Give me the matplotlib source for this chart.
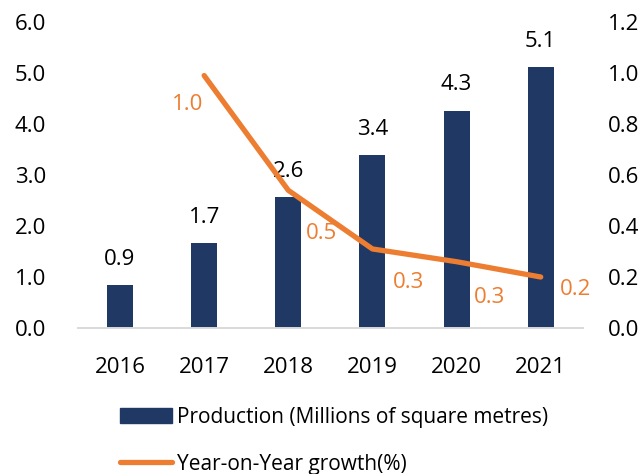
import matplotlib
matplotlib.use("Agg")
import matplotlib.pyplot as plt
from matplotlib.patches import Patch
from matplotlib.lines import Line2D

years = ["2016", "2017", "2018", "2019", "2020", "2021"]
production = [0.84, 1.67, 2.57, 3.39, 4.26, 5.11]
production_labels = ["0.9", "1.7", "2.6", "3.4", "4.3", "5.1"]
growth_years = ["2017", "2018", "2019", "2020", "2021"]
growth = [0.99, 0.54, 0.31, 0.26, 0.20]
growth_labels = ["1.0", "0.5", "0.3", "0.3", "0.2"]

plt.rcParams['font.family'] = ['Open Sans', 'DejaVu Sans']
BAR = "#203864"
LINE = "#ED7D31"

fig = plt.figure(figsize=(6.44, 4.74), dpi=100)
ax = fig.add_axes([0.121, 0.308, 0.784, 0.6456])
ax2 = ax.twinx()

x = list(range(len(years)))
ax.bar(x, production, width=0.31, color=BAR, zorder=2)
ax.set_ylim(0, 6.0)
ax.set_xlim(-0.5, len(years) - 0.5)
ax.set_yticks([0, 1, 2, 3, 4, 5, 6])
ax.set_yticklabels([f"{v:.1f}" for v in [0, 1, 2, 3, 4, 5, 6]])
ax.set_xticks(x)
ax.set_xticklabels(years)
for i, (v, lab) in enumerate(zip(production, production_labels)):
    ax.annotate(lab, (i, v), xytext=(0, 11), textcoords="offset points",
                ha="center", va="bottom", fontsize=16, color="#000000")

gx = [years.index(y) for y in growth_years]
ax2.plot(gx, growth, color=LINE, lw=3.8, solid_capstyle="round", zorder=3)
ax2.set_ylim(0, 1.2)
ax2.set_yticks([0, 0.2, 0.4, 0.6, 0.8, 1.0, 1.2])
ax2.set_yticklabels([f"{v:.1f}" for v in [0, 0.2, 0.4, 0.6, 0.8, 1.0, 1.2]])
offsets = [(-12, -21), (24, -31), (26, -24), (24, -26), (25, -9)]
for xi, v, lab, off in zip(gx, growth, growth_labels, offsets):
    ax2.annotate(lab, (xi, v), xytext=off, textcoords="offset points",
                 ha="center", va="center", fontsize=16, color=LINE)

for a in (ax, ax2):
    for s in ("top", "left", "right"):
        a.spines[s].set_visible(False)
    a.spines["bottom"].set_color("#D9D9D9")
    a.spines["bottom"].set_linewidth(1.2)
    a.tick_params(length=0, labelsize=16, colors="#000000")
ax.tick_params(axis="x", pad=21)
ax.tick_params(axis="y", pad=23)
ax2.tick_params(axis="y", pad=18)

handles = [Patch(facecolor=BAR, edgecolor=BAR),
           Line2D([0], [0], color=LINE, lw=3.8, solid_capstyle="round")]
labels = ["Production (Millions of square metres)", "Year-on-Year growth(%)"]
fig.legend(handles, labels, loc="upper left", bbox_to_anchor=(0.186, 0.142),
           frameon=False, fontsize=15, handlelength=2.5, handletextpad=0.25,
           labelspacing=1.25, borderaxespad=0, borderpad=0)

fig.savefig("out.png", dpi=100)
